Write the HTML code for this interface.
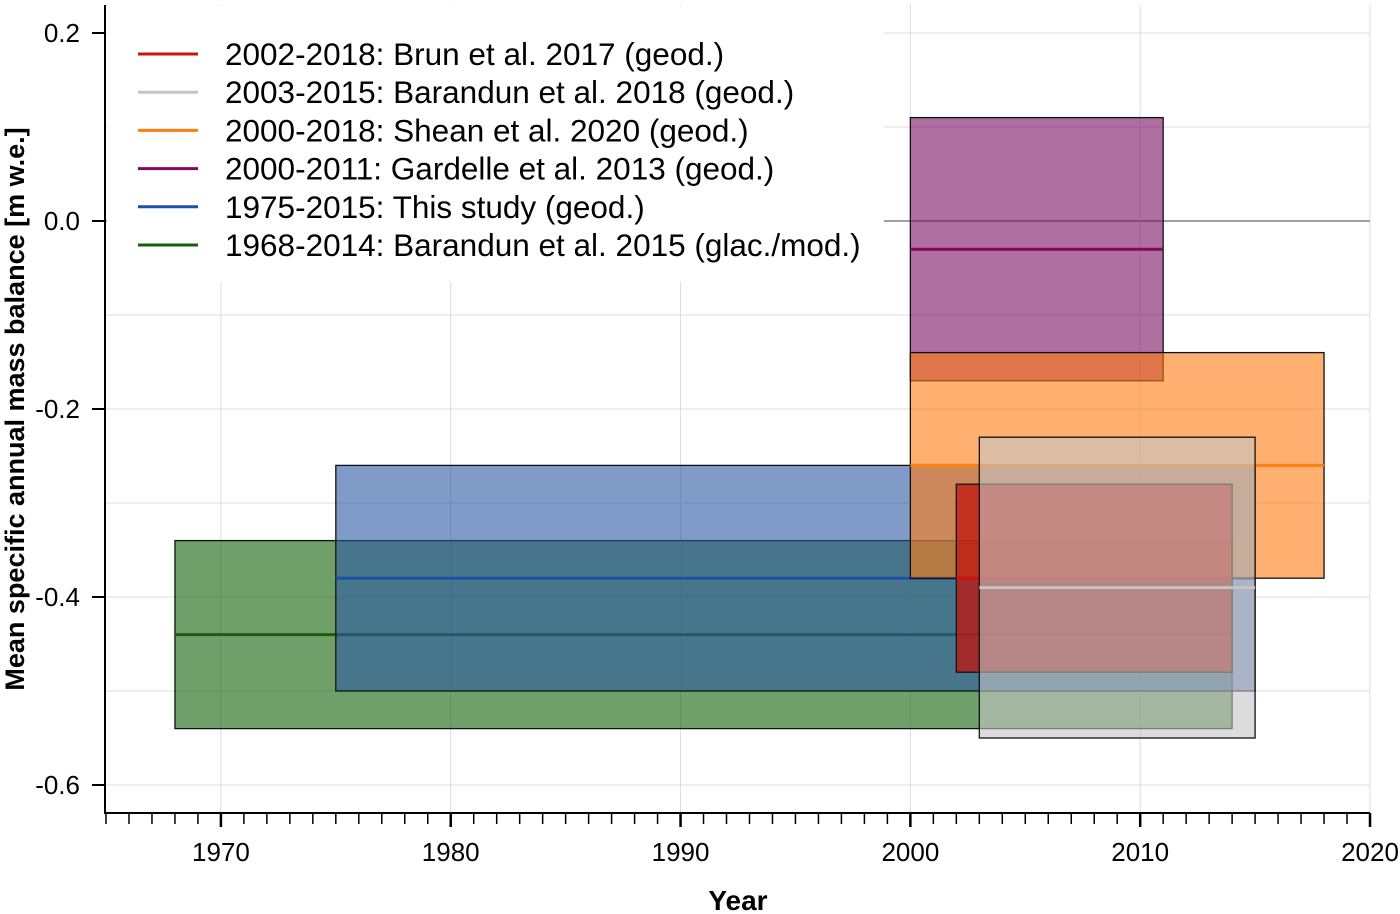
<!DOCTYPE html>
<html><head><meta charset="utf-8"><style>
body{margin:0;background:#fff;}
svg{display:block;font-family:"Liberation Sans",sans-serif;}
</style></head><body>
<svg id="chart" width="1400" height="914" viewBox="0 0 1400 914" xmlns="http://www.w3.org/2000/svg">
<g id="grid"></g>
<g id="marks"></g>
<g id="axes"></g>
<g id="legend"></g>
<text x="738" y="910" text-anchor="middle" font-size="28" font-weight="bold">Year</text>
<text transform="translate(24,409) rotate(-90)" text-anchor="middle" font-size="27" font-weight="bold">Mean specific annual mass balance [m w.e.]</text>
</svg>
<script>
const labels = ["2002-2018: Brun et al. 2017 (geod.)","2003-2015: Barandun et al. 2018 (geod.)","2000-2018: Shean et al. 2020 (geod.)","2000-2011: Gardelle et al. 2013 (geod.)","1975-2015: This study (geod.)","1968-2014: Barandun et al. 2015 (glac./mod.)"];
const startYears = [2002,2003,2000,2000,1975,1968];
const endYears = [2014,2015,2018,2011,2015,2014];
const means = [-0.38,-0.39,-0.26,-0.03,-0.38,-0.44];
const uppers = [-0.28,-0.23,-0.14,0.11,-0.26,-0.34];
const lowers = [-0.48,-0.55,-0.38,-0.17,-0.50,-0.54];
const drawOrder = [5,4,3,2,0,1];
const lineColors = ["#c8140f","#c4c4c4","#ff7f0e","#820a5e","#1f4fa8","#1b5e0e"];
const fillColors = ["#c0140c","#c5c5c5","#ff7b11","#7a0f63","#2b58a3","#116107"];
const fillOps = [0.75,0.6,0.6,0.6,0.6,0.6];
const xTicks = [1970,1980,1990,2000,2010,2020];
const yTicks = [0.2,0.0,-0.2,-0.4,-0.6];
const yGrid = [0.2,0.1,0.0,-0.1,-0.2,-0.3,-0.4,-0.5,-0.6];

const NS="http://www.w3.org/2000/svg";
const L=105,R=1370,T=5,B=813;
const x=v=>106+(v-1965)*(1370-106)/55;
const y=v=>221-(v)*940;
function mk(p,tag,at){const e=document.createElementNS(NS,tag);for(const k in at)e.setAttribute(k,at[k]);p.appendChild(e);return e;}
const grid=document.getElementById('grid'),marks=document.getElementById('marks'),axes=document.getElementById('axes'),leg=document.getElementById('legend');
yGrid.forEach(v=>{const e=mk(grid,'line',{x1:L,x2:R,y1:y(v),y2:y(v),stroke:'#dcdcdc','stroke-width':1});

});
xTicks.forEach(v=>{const e=mk(grid,'line',{x1:x(v),x2:x(v),y1:T,y2:B,stroke:'#dcdcdc','stroke-width':1});

});
const zl=mk(grid,'line',{x1:L,x2:R,y1:y(0),y2:y(0),stroke:'#a0a0a0','stroke-width':2});


drawOrder.forEach(i=>{
  const g=mk(marks,'g',{});
  
  
  const r=mk(g,'rect',{x:x(startYears[i]),y:y(uppers[i]),width:x(endYears[i])-x(startYears[i]),height:y(lowers[i])-y(uppers[i]),fill:fillColors[i],'fill-opacity':fillOps[i],stroke:'#111','stroke-width':1.3});
  
  
  const l=mk(g,'line',{x1:x(startYears[i]),x2:x(endYears[i]),y1:y(means[i]),y2:y(means[i]),stroke:lineColors[i],'stroke-width':3});
  
  
});
mk(axes,'line',{x1:L,x2:L,y1:T,y2:B+1,stroke:'#000','stroke-width':2});
mk(axes,'line',{x1:L,x2:R,y1:B,y2:B,stroke:'#000','stroke-width':2});
for(let yr=1965;yr<=2020;yr++){const maj=yr%10===0;mk(axes,'line',{x1:x(yr),x2:x(yr),y1:B,y2:B+(maj?14:11),stroke:'#000','stroke-width':maj?2.5:1.5});}
xTicks.forEach(v=>{const t=mk(axes,'text',{x:x(v),y:861,'text-anchor':'middle','font-size':26});t.textContent=v;

});
yTicks.forEach(v=>{mk(axes,'line',{x1:L-13,x2:L,y1:y(v),y2:y(v),stroke:'#000','stroke-width':2});
const t=mk(axes,'text',{x:80,y:y(v)+9,'text-anchor':'end','font-size':26});t.textContent=v.toFixed(1);

});
mk(leg,'rect',{x:107,y:6,width:777,height:276,fill:'#fff'});
labels.forEach((s,i)=>{const yy=54+i*38.2;
const g=mk(leg,'g',{});


mk(g,'line',{x1:138,x2:198,y1:yy,y2:yy,stroke:lineColors[i],'stroke-width':3});
const t=mk(g,'text',{x:225,y:yy+11,'font-size':31.5});t.textContent=s;});
</script>
</body></html>
